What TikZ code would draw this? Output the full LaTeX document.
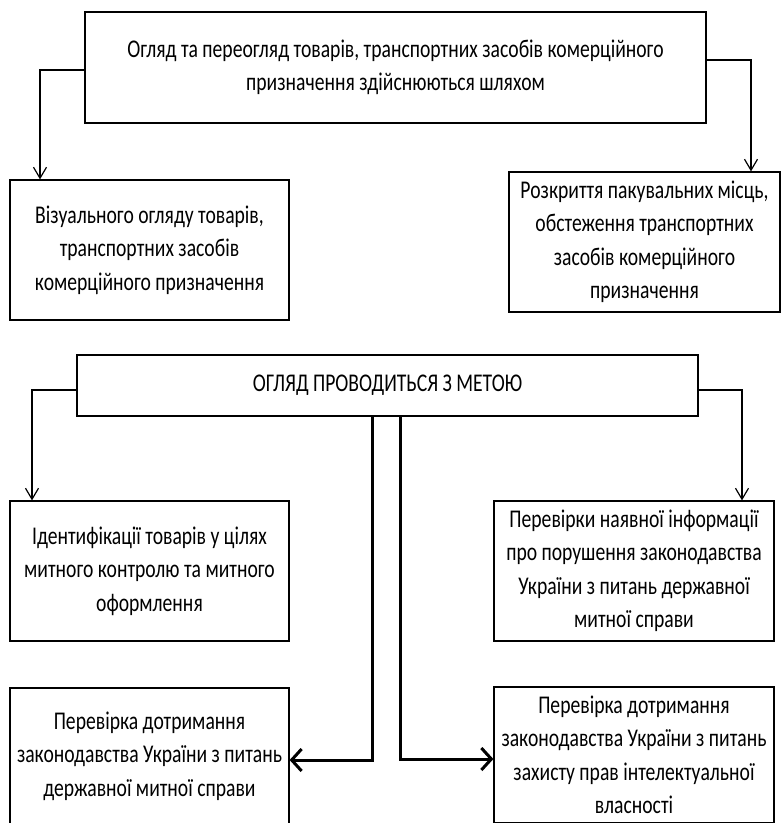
\documentclass[tikz,border=0pt]{standalone}
\usepackage{fontspec}
\setmainfont[FakeStretch=0.77]{Carlito}
\usetikzlibrary{arrows.meta,positioning,calc}

\begin{document}
\begin{tikzpicture}[x=1pt,y=-1pt,
    box/.style={draw, rectangle, line width=1.2pt, align=center, inner sep=0pt,
        font=\fontsize{25.5}{33.5}\selectfont},
    link/.style={line width=1.2pt, -{Straight Barb[length=11pt,width=13pt,line width=1.2pt]}},
    thicklink/.style={line width=3pt, -{Straight Barb[length=10pt,width=22pt,line width=3pt]}}]
    \useasboundingbox (0,0) rectangle (781,823);

    % upper part
    \node[box, minimum width=621pt, minimum height=111pt] (top) at (395.5,67.5)
        {Огляд та переогляд товарів, транспортних засобів комерційного\\призначення здійснюються шляхом};
    \node[box, minimum width=279pt, minimum height=140pt] (visual) at (149.5,250)
        {Візуального огляду товарів,\\транспортних засобів\\комерційного призначення};
    \node[box, minimum width=271pt, minimum height=140pt] (opening) at (644.5,242)
        {Розкриття пакувальних місць,\\обстеження транспортних\\засобів комерційного\\призначення};

    \coordinate (tl) at (40,70);
    \coordinate (tr) at (751,60);
    \draw[link] (top.west |- tl) -- (tl) -- (tl |- visual.north);
    \draw[link] (top.east |- tr) -- (tr) -- (tr |- opening.north);

    % lower part
    \node[box, minimum width=621pt, minimum height=61pt] (goal) at (387.5,385.5)
        {ОГЛЯД ПРОВОДИТЬСЯ З МЕТОЮ};
    \node[box, minimum width=279pt, minimum height=140pt] (ident) at (149.5,571)
        {Ідентифікації товарів у цілях\\митного контролю та митного\\оформлення};
    \node[box, minimum width=280pt, minimum height=140pt] (info) at (634,571)
        {Перевірки наявної інформації\\про порушення законодавства\\України з питань державної\\митної справи};
    \node[box, minimum width=279pt, minimum height=136pt] (customs) at (149.5,756)
        {Перевірка дотримання\\законодавства України з питань\\державної митної справи};
    \node[box, minimum width=280pt, minimum height=136pt] (ip) at (634,755)
        {Перевірка дотримання\\законодавства України з питань\\захисту прав інтелектуальної\\власності};

    \coordinate (gl) at (32,390);
    \coordinate (gr) at (742,390);
    \draw[link] (goal.west |- gl) -- (gl) -- (gl |- ident.north);
    \draw[link] (goal.east |- gr) -- (gr) -- (gr |- info.north);

    \coordinate (cl) at (372,760);
    \coordinate (cr) at (400,759);
    \draw[thicklink] (goal.south -| cl) -- (cl) -- (cl -| customs.east);
    \draw[thicklink] (goal.south -| cr) -- (cr) -- (cr -| ip.west);
\end{tikzpicture}
\end{document}
